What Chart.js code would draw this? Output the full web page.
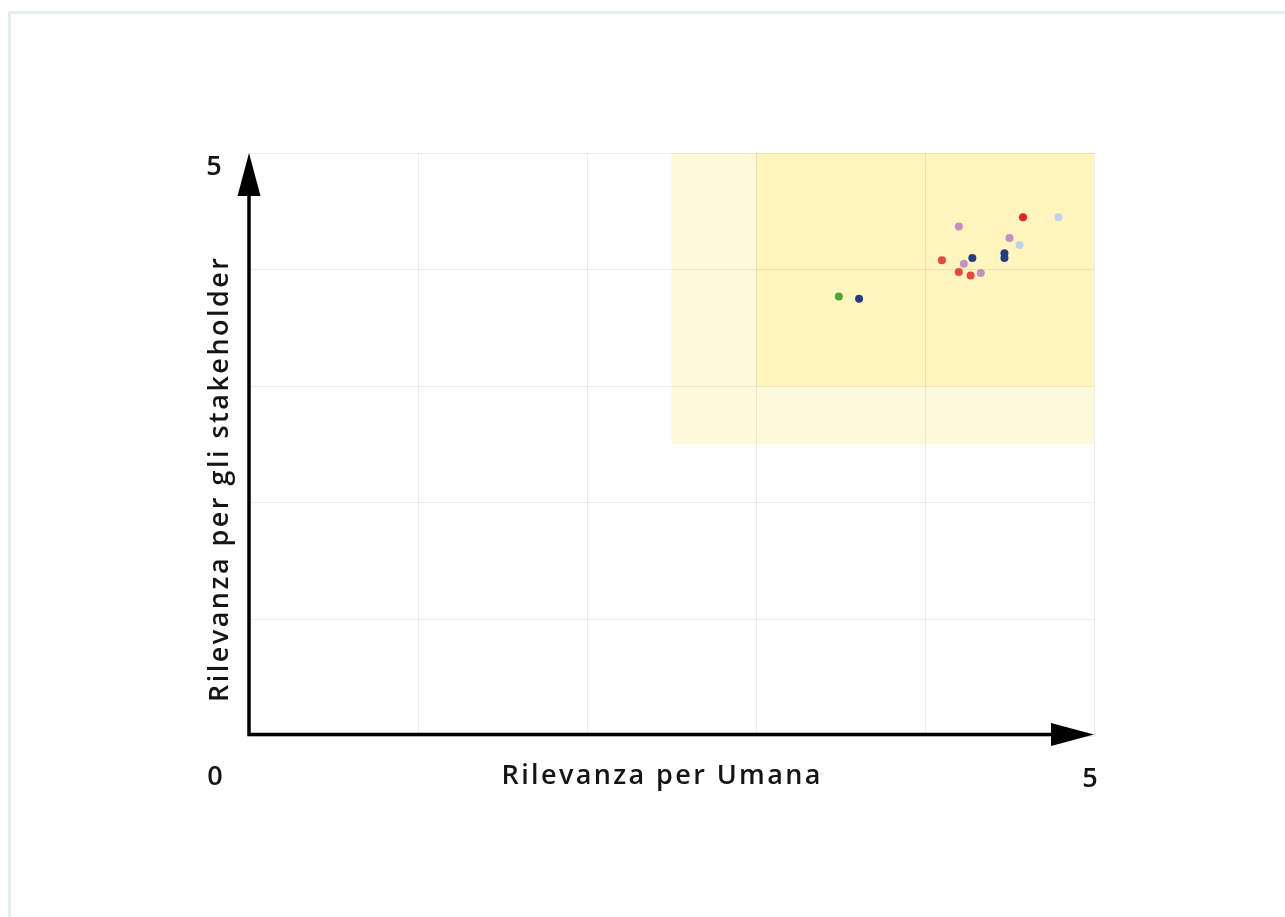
<!DOCTYPE html>
<html>
<head>
<meta charset="utf-8">
<script src="https://cdn.jsdelivr.net/npm/chart.js@4.4.1/dist/chart.umd.min.js"></script>
<style>
  html, body { margin: 0; padding: 0; background: #ffffff; overflow: hidden; }
  #frame { position: absolute; left: 8px; top: 11px; width: 1300px; height: 950px; border: 3px solid #e1eef2; box-sizing: border-box; }
  #wrap { position: absolute; left: 0; top: 0; width: 1285px; height: 917px; }
</style>
</head>
<body>
<div id="frame"></div>
<div id="wrap"><canvas id="c" width="1285" height="917"></canvas></div>
<script>
// ---- data ----
const xTitle = 'Rilevanza per Umana';
const yTitle = 'Rilevanza per gli stakeholder';
const axisMin = 0;
const axisMax = 5;
const endLabels = ['0', '5'];

// highlighted zones: [xFrom, xTo, yFrom, yTo]
const zoneOuter = [2.5, 5, 2.5, 5];
const zoneInner = [3, 5, 3, 5];

const redX = [4.10, 4.20, 4.27];
const redY = [4.08, 3.98, 3.95];
const brightRedX = [4.58];
const brightRedY = [4.45];
const pinkX = [4.20, 4.23, 4.33, 4.50];
const pinkY = [4.37, 4.05, 3.97, 4.27];
const navyX = [3.61, 4.28, 4.47, 4.47];
const navyY = [3.75, 4.10, 4.14, 4.10];
const lightBlueX = [4.56, 4.79];
const lightBlueY = [4.21, 4.45];
const greenX = [3.49];
const greenY = [3.77];

function pts(xs, ys) { return xs.map((x, i) => ({ x: x, y: ys[i] })); }

const FONT = '"Open Sans", "DejaVu Sans", sans-serif';

function spacedText(ctx, text, x, y, targetWidth) {
  // Draw centered text, widened with letter spacing to the target width
  ctx.textAlign = 'left';
  const base = ctx.measureText(text).width;
  const n = text.length;
  const extra = Math.max(0, (targetWidth - base) / (n - 1));
  let cx = x - targetWidth / 2;
  for (const ch of text) {
    ctx.fillText(ch, cx, y);
    cx += ctx.measureText(ch).width + extra;
  }
}

const decorPlugin = {
  id: 'decor',
  beforeDraw(chart) {
    const { ctx } = chart;
    const xs = chart.scales.x, ys = chart.scales.y;
    ctx.save();
    const drawZone = (z, color) => {
      const l = xs.getPixelForValue(z[0]), r = xs.getPixelForValue(z[1]);
      const b = ys.getPixelForValue(z[2]), t = ys.getPixelForValue(z[3]);
      ctx.fillStyle = color;
      ctx.fillRect(l, t, r - l, b - t);
    };
    drawZone(zoneOuter, '#fff9dc');
    drawZone(zoneInner, '#fff5bd');
    ctx.restore();
  },
  afterDraw(chart) {
    const { ctx } = chart;
    const xs = chart.scales.x, ys = chart.scales.y;
    const x0 = xs.getPixelForValue(axisMin), x1 = xs.getPixelForValue(axisMax);
    const y0 = ys.getPixelForValue(axisMin), y1 = ys.getPixelForValue(axisMax);
    ctx.save();
    ctx.strokeStyle = '#000';
    ctx.fillStyle = '#000';
    ctx.lineWidth = 3.5;
    ctx.beginPath();
    ctx.moveTo(x0, y1 + 30);
    ctx.lineTo(x0, y0 - 1.5);
    ctx.lineTo(x1 - 30, y0 - 1.5);
    ctx.stroke();
    // up arrow
    ctx.beginPath();
    ctx.moveTo(x0, y1);
    ctx.lineTo(x0 - 11.5, y1 + 43);
    ctx.lineTo(x0 + 11.5, y1 + 43);
    ctx.closePath();
    ctx.fill();
    // right arrow
    ctx.beginPath();
    ctx.moveTo(x1, y0 - 1.5);
    ctx.lineTo(x1 - 43, y0 - 1.5 - 11.5);
    ctx.lineTo(x1 - 43, y0 - 1.5 + 11.5);
    ctx.closePath();
    ctx.fill();

    // end labels
    ctx.font = '600 27px ' + FONT;
    ctx.textAlign = 'center';
    ctx.textBaseline = 'alphabetic';
    ctx.fillStyle = '#151515';
    ctx.fillText(endLabels[0], x0 - 34, y0 + 49);
    ctx.fillText(endLabels[1], x1 - 4, y0 + 51);
    ctx.fillText(endLabels[1], x0 - 35, y1 + 22);

    // titles
    ctx.font = '600 27px ' + FONT;
    spacedText(ctx, xTitle, x0 + 412, y0 + 48, 319);
    ctx.save();
    ctx.translate(x0 - 21, y1 + 327);
    ctx.rotate(-Math.PI / 2);
    spacedText(ctx, yTitle, 0, 0, 444);
    ctx.restore();
    ctx.restore();
  }
};

const common = { pointRadius: 4, pointHoverRadius: 4, borderWidth: 0, showLine: false };

new Chart(document.getElementById('c'), {
  type: 'scatter',
  data: {
    datasets: [
      { label: 'Rosso', data: pts(redX, redY), backgroundColor: '#e84545', ...common },
      { label: 'Rosso intenso', data: pts(brightRedX, brightRedY), backgroundColor: '#e2242a', ...common },
      { label: 'Viola', data: pts(pinkX, pinkY), backgroundColor: '#c48fc7', ...common },
      { label: 'Blu', data: pts(navyX, navyY), backgroundColor: '#233d80', ...common },
      { label: 'Azzurro', data: pts(lightBlueX, lightBlueY), backgroundColor: '#bcd3f1', ...common },
      { label: 'Verde', data: pts(greenX, greenY), backgroundColor: '#47a93a', ...common }
    ]
  },
  options: {
    responsive: false,
    animation: false,
    devicePixelRatio: 1,
    layout: { padding: { left: 249, top: 153, right: 191, bottom: 181 } },
    plugins: { legend: { display: false }, tooltip: { enabled: false } },
    scales: {
      x: {
        type: 'linear', min: axisMin, max: axisMax,
        ticks: { display: false, stepSize: 1 },
        grid: { color: 'rgba(0,0,0,0.075)', drawTicks: false },
        border: { display: false }
      },
      y: {
        type: 'linear', min: axisMin, max: axisMax,
        ticks: { display: false, stepSize: 1 },
        grid: { color: 'rgba(0,0,0,0.075)', drawTicks: false },
        border: { display: false }
      }
    }
  },
  plugins: [decorPlugin]
});
</script>
</body>
</html>
